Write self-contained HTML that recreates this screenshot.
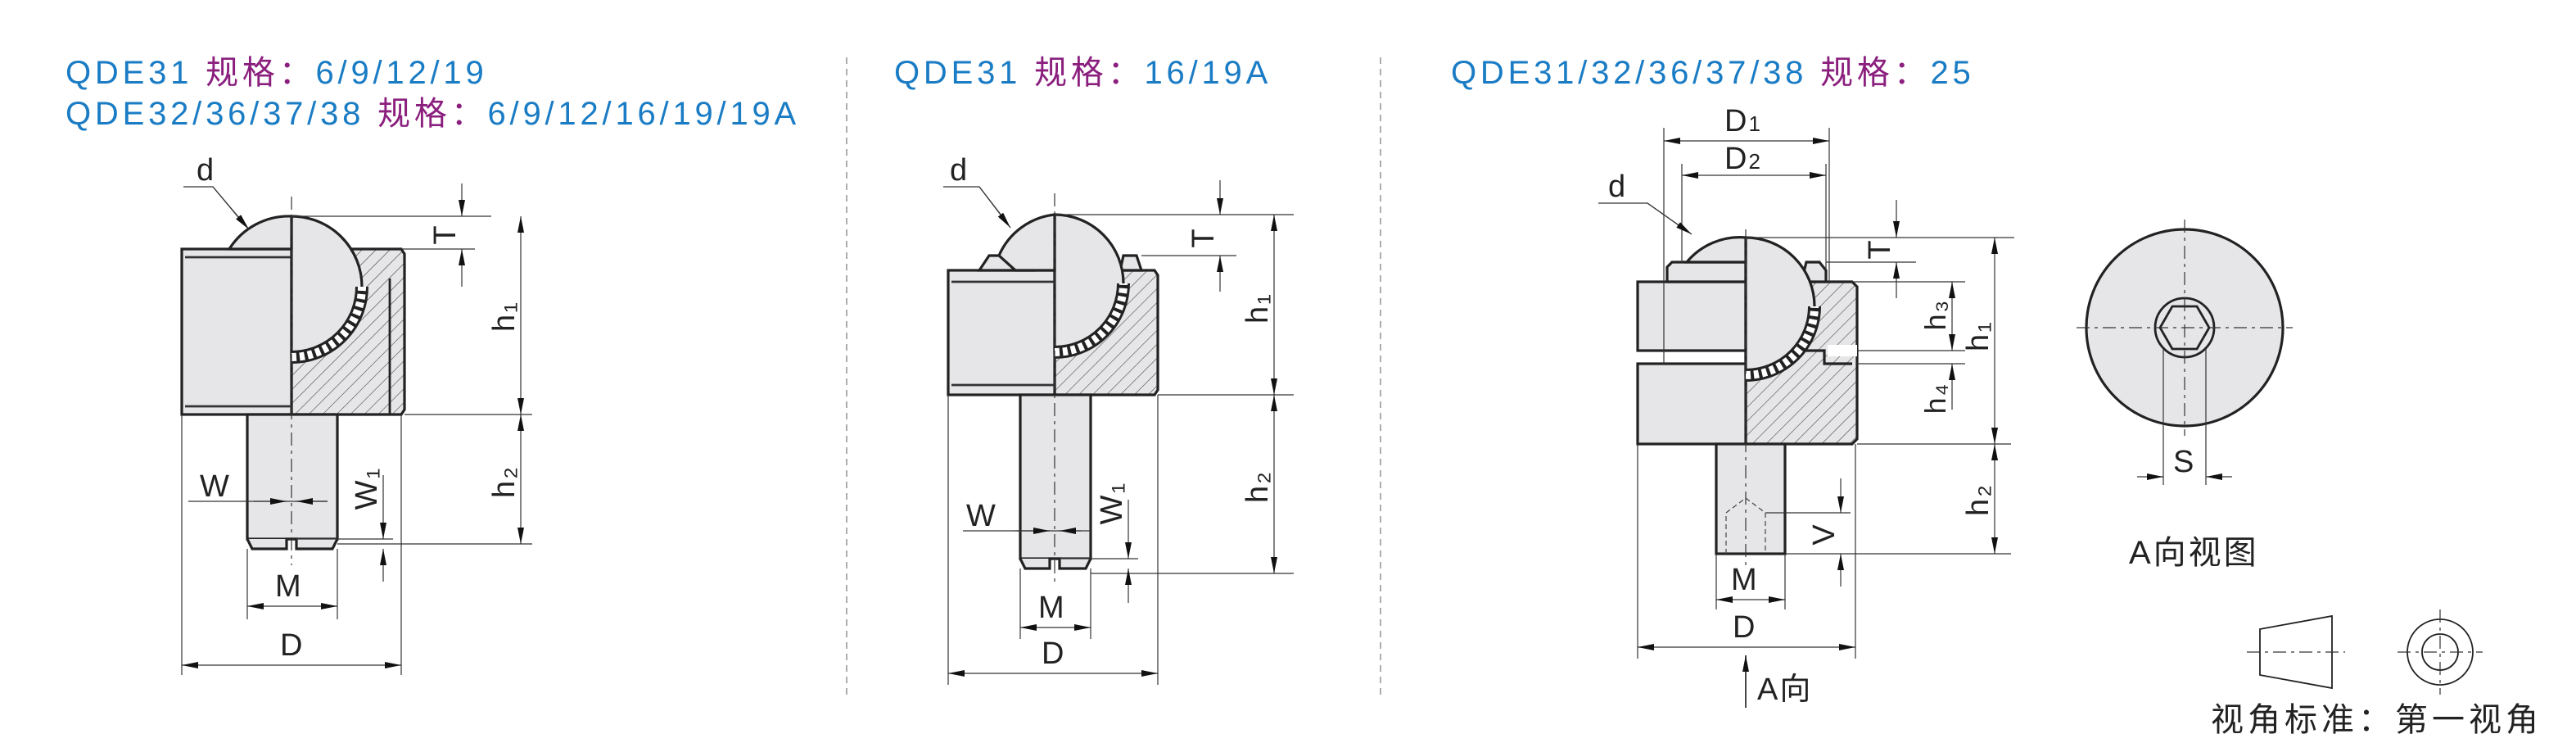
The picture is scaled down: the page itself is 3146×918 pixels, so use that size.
<!DOCTYPE html>
<html><head><meta charset="utf-8"><style>
html,body{margin:0;padding:0;background:#fff;width:3146px;height:918px;overflow:hidden}
svg{display:block}
text{font-family:"Liberation Sans","Noto Sans CJK SC",sans-serif;letter-spacing:1px}
.ti{letter-spacing:2.4px}
.b{fill:#1a7cc4}.p{fill:#8b1f7e}.k{fill:#222}
.o{fill:#e6e6e8;stroke:#222;stroke-width:1.6}
.t{fill:none;stroke:#333;stroke-width:0.6}
.c{fill:none;stroke:#333;stroke-width:0.6;stroke-dasharray:8 3 2 3}
.h{fill:url(#hat);stroke:#222;stroke-width:1.6}
</style></head><body>
<svg width="3146" height="918" viewBox="0 0 1573 459" xmlns="http://www.w3.org/2000/svg">
<defs>
<pattern id="hat" width="6" height="6" patternUnits="userSpaceOnUse" patternTransform="rotate(45)">
<rect width="6" height="6" fill="#e6e6e8"/><line x1="0" y1="0" x2="0" y2="6" stroke="#444" stroke-width="0.6"/></pattern>
<marker id="a" viewBox="0 0 10 4" refX="10" refY="2" markerWidth="10" markerHeight="4" orient="auto-start-reverse" markerUnits="userSpaceOnUse"><path d="M0,0L10,2L0,4z" fill="#111"/></marker>
</defs>
<!-- titles -->
<text class="ti" x="40" y="51" font-size="20"><tspan class="b">QDE31 </tspan><tspan class="p">规格：</tspan><tspan class="b">6/9/12/19</tspan></text>
<text class="ti" x="40" y="76" font-size="20"><tspan class="b">QDE32/36/37/38 </tspan><tspan class="p">规格：</tspan><tspan class="b">6/9/12/16/19/19A</tspan></text>
<text class="ti" x="546" y="51" font-size="20"><tspan class="b">QDE31 </tspan><tspan class="p">规格：</tspan><tspan class="b">16/19A</tspan></text>
<text class="ti" x="886" y="51" font-size="20"><tspan class="b">QDE31/32/36/37/38 </tspan><tspan class="p">规格：</tspan><tspan class="b">25</tspan></text>
<line x1="517" y1="35" x2="517" y2="425" stroke="#999" stroke-width="0.8" stroke-dasharray="4 3"/>
<line x1="843" y1="35" x2="843" y2="425" stroke="#999" stroke-width="0.8" stroke-dasharray="4 3"/>

<!-- ===== Diagram 1 ===== -->
<path class="h" d="M178,152 H245 L247,155 V250 L245,253 H178 Z"/>
<rect class="o" x="111" y="152" width="67" height="101"/>
<line class="t" x1="113" y1="157" x2="178" y2="157" style="stroke-width:1.4"/>
<line class="t" x1="113" y1="248" x2="178" y2="248" style="stroke-width:1.4"/>
<path class="o" d="M178,132 A43,43 0 0 1 221,175 A43,43 0 0 1 178,218 Z"/>
<path class="o" d="M178,132 A43,43 0 0 0 140,152 H178Z"/>
<path d="M178,218 A43,43 0 0 0 221,175" fill="none" stroke="#222" stroke-width="8"/>
<path d="M178,218 A43,43 0 0 0 221,175" fill="none" stroke="#fff" stroke-width="5" stroke-dasharray="3 2"/>
<line x1="238" y1="170" x2="238" y2="253" stroke="#222" stroke-width="1.4"/>
<rect class="o" x="151" y="253" width="55" height="76"/>
<path class="o" d="M151,329 L154,335 H175 V329 H181 V335 H203 L206,329"/>
<line class="c" x1="178" y1="120" x2="178" y2="345"/>
<!-- dims -->
<line class="t" x1="178" y1="132" x2="300" y2="132"/><line class="t" x1="245" y1="152" x2="290" y2="152"/>
<line class="t" x1="282" y1="112" x2="282" y2="132" marker-end="url(#a)"/><line class="t" x1="282" y1="175" x2="282" y2="152" marker-end="url(#a)"/>
<text class="k" font-size="19" transform="translate(278,143) rotate(-90)" text-anchor="middle">T</text>
<line class="t" x1="247" y1="253" x2="325" y2="253"/><line class="t" x1="206" y1="332" x2="325" y2="332"/>
<line class="t" x1="318" y1="132" x2="318" y2="253" marker-start="url(#a)" marker-end="url(#a)"/>
<line class="t" x1="318" y1="253" x2="318" y2="332" marker-start="url(#a)" marker-end="url(#a)"/>
<text class="k" font-size="19" transform="translate(314,193) rotate(-90)" text-anchor="middle">h₁</text>
<text class="k" font-size="19" transform="translate(314,294) rotate(-90)" text-anchor="middle">h₂</text>
<line class="t" x1="115" y1="306" x2="200" y2="306"/>
<line class="t" x1="155" y1="306" x2="175" y2="306" marker-end="url(#a)"/><line class="t" x1="200" y1="306" x2="181" y2="306" marker-end="url(#a)"/>
<text class="k" font-size="19" x="122" y="303">W</text>
<line class="t" x1="181" y1="329" x2="240" y2="329"/>
<line class="t" x1="234" y1="290" x2="234" y2="329" marker-end="url(#a)"/><line class="t" x1="234" y1="355" x2="234" y2="335" marker-end="url(#a)"/>
<text class="k" font-size="19" transform="translate(230,298) rotate(-90)" text-anchor="middle">W₁</text>
<line class="t" x1="151" y1="335" x2="151" y2="378"/><line class="t" x1="206" y1="335" x2="206" y2="378"/>
<line class="t" x1="151" y1="370" x2="206" y2="370" marker-start="url(#a)" marker-end="url(#a)"/>
<text class="k" font-size="19" x="168" y="364">M</text>
<line class="t" x1="111" y1="253" x2="111" y2="412"/><line class="t" x1="245" y1="253" x2="245" y2="412"/>
<line class="t" x1="111" y1="406" x2="245" y2="406" marker-start="url(#a)" marker-end="url(#a)"/>
<text class="k" font-size="19" x="171" y="400">D</text>
<text class="k" font-size="19" x="120" y="110">d</text>
<polyline class="t" points="112,114 130,114 150,138"/>
<line class="t" x1="130" y1="114" x2="152" y2="140" marker-end="url(#a)"/>

<!-- ===== Diagram 2 ===== -->
<path class="h" d="M644,165 H705 L707,168 V238 L705,241 H644 Z"/>
<rect class="o" x="579" y="165" width="65" height="76"/>
<line class="t" x1="581" y1="172" x2="644" y2="172" style="stroke-width:1.4"/>
<line class="t" x1="581" y1="235" x2="644" y2="235" style="stroke-width:1.4"/>
<path class="o" d="M598,165 L604,156 H620 L630,165Z"/>
<path class="o" d="M686,156 H694 L697,165 H684Z"/>
<path class="o" d="M644,131 A42,42 0 0 1 686,173 A42,42 0 0 1 644,215 Z"/>
<path class="o" d="M644,131 A42,42 0 0 0 610,156 L620,165 H644Z"/>
<path d="M644,215 A42,42 0 0 0 686,173" fill="none" stroke="#222" stroke-width="8"/>
<path d="M644,215 A42,42 0 0 0 686,173" fill="none" stroke="#fff" stroke-width="5" stroke-dasharray="3 2"/>
<rect class="o" x="623" y="241" width="43" height="100"/>
<path class="o" d="M623,341 L626,347 H641 V341 H647 V347 H663 L666,341"/>
<line class="c" x1="644" y1="118" x2="644" y2="355"/>
<line class="t" x1="644" y1="131" x2="790" y2="131"/><line class="t" x1="697" y1="156" x2="755" y2="156"/>
<line class="t" x1="745" y1="110" x2="745" y2="131" marker-end="url(#a)"/><line class="t" x1="745" y1="178" x2="745" y2="156" marker-end="url(#a)"/>
<text class="k" font-size="19" transform="translate(741,145) rotate(-90)" text-anchor="middle">T</text>
<line class="t" x1="707" y1="241" x2="790" y2="241"/><line class="t" x1="666" y1="350" x2="790" y2="350"/>
<line class="t" x1="778" y1="131" x2="778" y2="241" marker-start="url(#a)" marker-end="url(#a)"/>
<line class="t" x1="778" y1="241" x2="778" y2="350" marker-start="url(#a)" marker-end="url(#a)"/>
<text class="k" font-size="19" transform="translate(774,188) rotate(-90)" text-anchor="middle">h₁</text>
<text class="k" font-size="19" transform="translate(774,297) rotate(-90)" text-anchor="middle">h₂</text>
<line class="t" x1="588" y1="324" x2="660" y2="324"/>
<line class="t" x1="620" y1="324" x2="641" y2="324" marker-end="url(#a)"/><line class="t" x1="666" y1="324" x2="647" y2="324" marker-end="url(#a)"/>
<text class="k" font-size="19" x="590" y="321">W</text>
<line class="t" x1="647" y1="341" x2="695" y2="341"/>
<line class="t" x1="689" y1="305" x2="689" y2="341" marker-end="url(#a)"/><line class="t" x1="689" y1="368" x2="689" y2="347" marker-end="url(#a)"/>
<text class="k" font-size="19" transform="translate(685,307) rotate(-90)" text-anchor="middle">W₁</text>
<line class="t" x1="623" y1="347" x2="623" y2="390"/><line class="t" x1="666" y1="347" x2="666" y2="390"/>
<line class="t" x1="623" y1="383" x2="666" y2="383" marker-start="url(#a)" marker-end="url(#a)"/>
<text class="k" font-size="19" x="634" y="377">M</text>
<line class="t" x1="579" y1="241" x2="579" y2="418"/><line class="t" x1="707" y1="241" x2="707" y2="418"/>
<line class="t" x1="579" y1="411" x2="707" y2="411" marker-start="url(#a)" marker-end="url(#a)"/>
<text class="k" font-size="19" x="636" y="405">D</text>
<text class="k" font-size="19" x="580" y="110">d</text>
<polyline class="t" points="576,114 598,114 615,136"/>
<line class="t" x1="598" y1="114" x2="617" y2="139" marker-end="url(#a)"/>

<!-- ===== Diagram 3 ===== -->
<path class="h" d="M1066,172 H1131 L1134,175 V268 L1131,271 H1066 Z"/>
<rect class="o" x="1000" y="172" width="66" height="42"/>
<rect class="o" x="1000" y="222" width="66" height="49"/>
<path class="o" d="M1018,172 V163 L1021,160 H1066 V172Z"/>
<path class="o" d="M1103,160 H1111 L1115,165 V172 H1100Z"/>
<path d="M1066,214 H1114 V222 H1131" fill="none" stroke="#222" stroke-width="1.6"/>
<line x1="1116" y1="214" x2="1134" y2="214" stroke="#fff" stroke-width="7"/>
<path class="o" d="M1066,145 A42,42 0 0 1 1108,187 A42,42 0 0 1 1066,229 Z"/>
<path class="o" d="M1066,145 A42,42 0 0 0 1030,160 H1066Z"/>
<path d="M1066,229 A42,42 0 0 0 1108,187" fill="none" stroke="#222" stroke-width="8"/>
<path d="M1066,229 A42,42 0 0 0 1108,187" fill="none" stroke="#fff" stroke-width="5" stroke-dasharray="3 2"/>
<rect class="o" x="1048" y="271" width="42" height="67"/>
<path d="M1054,338 V313 L1066,304 L1078,313 V338" fill="none" stroke="#444" stroke-width="0.6" stroke-dasharray="3 2"/>
<line class="c" x1="1066" y1="140" x2="1066" y2="345"/>
<line class="t" x1="1016" y1="78" x2="1016" y2="222"/><line class="t" x1="1117" y1="78" x2="1117" y2="172"/>
<line class="t" x1="1016" y1="86" x2="1117" y2="86" marker-start="url(#a)" marker-end="url(#a)"/>
<text class="k" font-size="19" x="1053" y="80">D<tspan font-size="13">1</tspan></text>
<line class="t" x1="1027" y1="100" x2="1027" y2="160"/><line class="t" x1="1115" y1="100" x2="1115" y2="165"/>
<line class="t" x1="1027" y1="107" x2="1115" y2="107" marker-start="url(#a)" marker-end="url(#a)"/>
<text class="k" font-size="19" x="1053" y="103">D<tspan font-size="13">2</tspan></text>
<text class="k" font-size="19" x="982" y="120">d</text>
<polyline class="t" points="976,124 1006,124 1030,141"/>
<line class="t" x1="1006" y1="124" x2="1033" y2="143" marker-end="url(#a)"/>
<line class="t" x1="1066" y1="145" x2="1230" y2="145"/><line class="t" x1="1115" y1="160" x2="1170" y2="160"/>
<line class="t" x1="1158" y1="122" x2="1158" y2="145" marker-end="url(#a)"/><line class="t" x1="1158" y1="182" x2="1158" y2="160" marker-end="url(#a)"/>
<text class="k" font-size="19" transform="translate(1154,152) rotate(-90)" text-anchor="middle">T</text>
<line class="t" x1="1131" y1="172" x2="1200" y2="172"/><line class="t" x1="1134" y1="214" x2="1200" y2="214"/><line class="t" x1="1134" y1="222" x2="1200" y2="222"/>
<line class="t" x1="1192" y1="172" x2="1192" y2="214" marker-start="url(#a)" marker-end="url(#a)"/>
<line class="t" x1="1192" y1="250" x2="1192" y2="222" marker-end="url(#a)"/>
<text class="k" font-size="18" transform="translate(1188,192) rotate(-90)" text-anchor="middle">h₃</text>
<text class="k" font-size="18" transform="translate(1188,243) rotate(-90)" text-anchor="middle">h₄</text>
<line class="t" x1="1134" y1="271" x2="1228" y2="271"/><line class="t" x1="1090" y1="338" x2="1228" y2="338"/>
<line class="t" x1="1218" y1="145" x2="1218" y2="271" marker-start="url(#a)" marker-end="url(#a)"/>
<line class="t" x1="1218" y1="271" x2="1218" y2="338" marker-start="url(#a)" marker-end="url(#a)"/>
<text class="k" font-size="19" transform="translate(1214,205) rotate(-90)" text-anchor="middle">h₁</text>
<text class="k" font-size="19" transform="translate(1214,305) rotate(-90)" text-anchor="middle">h₂</text>
<line class="t" x1="1078" y1="313" x2="1130" y2="313"/>
<line class="t" x1="1124" y1="292" x2="1124" y2="313" marker-end="url(#a)"/><line class="t" x1="1124" y1="358" x2="1124" y2="338" marker-end="url(#a)"/>
<text class="k" font-size="19" transform="translate(1120,326) rotate(-90)" text-anchor="middle">V</text>
<line class="t" x1="1048" y1="338" x2="1048" y2="372"/><line class="t" x1="1090" y1="338" x2="1090" y2="372"/>
<line class="t" x1="1048" y1="366" x2="1090" y2="366" marker-start="url(#a)" marker-end="url(#a)"/>
<text class="k" font-size="19" x="1057" y="360">M</text>
<line class="t" x1="1000" y1="271" x2="1000" y2="402"/><line class="t" x1="1133" y1="271" x2="1133" y2="402"/>
<line class="t" x1="1000" y1="395" x2="1133" y2="395" marker-start="url(#a)" marker-end="url(#a)"/>
<text class="k" font-size="19" x="1058" y="389">D</text>
<line class="t" x1="1066" y1="432" x2="1066" y2="400" marker-end="url(#a)" style="stroke-width:0.9"/>
<text class="k" font-size="19" x="1073" y="427">A向</text>

<!-- A view -->
<circle cx="1334" cy="200" r="60" fill="#e6e6e8" stroke="#222" stroke-width="1.6"/>
<circle cx="1334" cy="200" r="18" fill="#e6e6e8" stroke="#222" stroke-width="1.4"/>
<polygon points="1349,200 1341.5,213 1326.5,213 1319,200 1326.5,187 1341.5,187" fill="none" stroke="#222" stroke-width="1.4"/>
<line class="c" x1="1268" y1="200" x2="1400" y2="200"/><line class="c" x1="1334" y1="134" x2="1334" y2="266"/>
<line class="t" x1="1321" y1="213" x2="1321" y2="296"/><line class="t" x1="1347" y1="213" x2="1347" y2="296"/>
<line class="t" x1="1305" y1="291" x2="1321" y2="291" marker-end="url(#a)"/><line class="t" x1="1363" y1="291" x2="1347" y2="291" marker-end="url(#a)"/>
<text class="k" font-size="19" x="1327" y="288">S</text>
<text class="k" font-size="20" x="1300" y="344" style="letter-spacing:1.5px">A向视图</text>
<!-- projection symbol -->
<polygon points="1380,384 1424,376 1424,420 1380,412" fill="none" stroke="#222" stroke-width="0.9"/>
<line class="c" x1="1372" y1="398" x2="1432" y2="398"/>
<circle cx="1490" cy="398" r="20" fill="none" stroke="#222" stroke-width="0.9"/>
<circle cx="1490" cy="398" r="11" fill="none" stroke="#222" stroke-width="0.9"/>
<line class="c" x1="1464" y1="398" x2="1516" y2="398"/><line class="c" x1="1490" y1="372" x2="1490" y2="424"/>
<text class="k" font-size="20" x="1350" y="446" style="letter-spacing:2.5px">视角标准：第一视角</text>
</svg>
</body></html>
